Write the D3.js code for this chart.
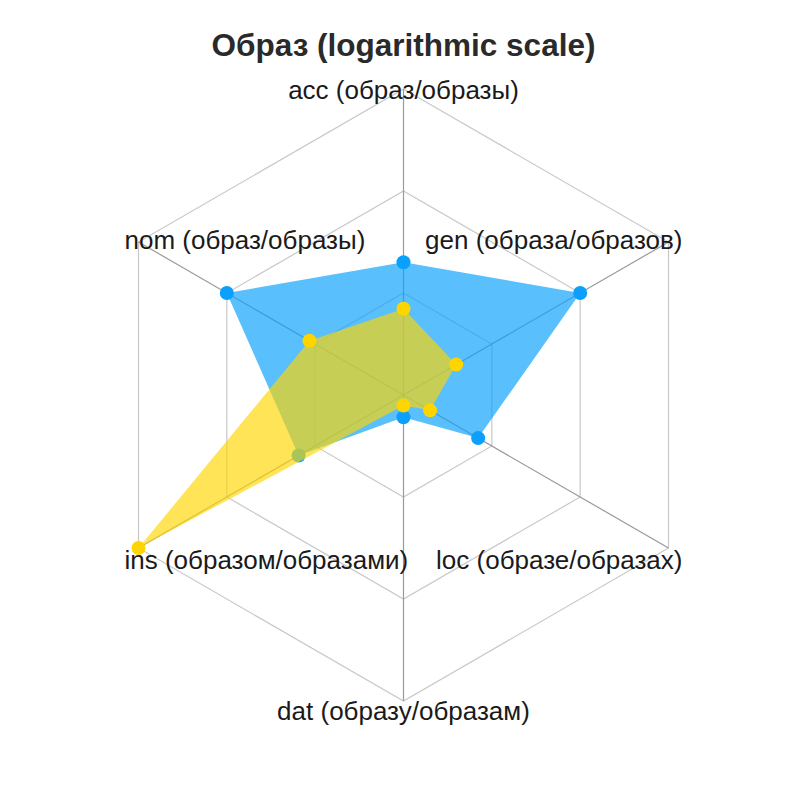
<!DOCTYPE html>
<html>
<head>
<meta charset="utf-8">
<script src="https://cdn.jsdelivr.net/npm/d3@7"></script>
<style>
  body { margin: 0; background: #fff; }
  #chart { width: 790px; height: 788px; }
  text { font-family: "Liberation Sans", Arial, Helvetica, sans-serif; }
</style>
</head>
<body>
<div id="chart"></div>
<script>
// axes, clockwise from the top
var cases = ["acc", "gen", "loc", "dat", "ins", "nom"];
var caseLabels = [
  "acc (образ/образы)",
  "gen (образа/образов)",
  "loc (образе/образах)",
  "dat (образу/образам)",
  "ins (образом/образами)",
  "nom (образ/образы)"
];
// values (log scale)
var blueValues = [20, 100, 7, 1.65, 15.4, 100];
var yellowValues = [7, 3.95, 2, 1.27, 1000, 11.6];
var ringTicks = [10, 100, 1000];

var width = 790, height = 788;
var cx = 403.5, cy = 395, R = 306;

var svg = d3.select("#chart")
  .append("svg")
  .attr("width", width)
  .attr("height", height);

var r = d3.scaleLog().domain([1, 1000]).range([0, R]);

function angle(i) { return -Math.PI / 2 + i * 2 * Math.PI / cases.length; }
function px(i, rad) { return cx + rad * Math.cos(angle(i)); }
function py(i, rad) { return cy + rad * Math.sin(angle(i)); }

// title
svg.append("text")
  .attr("x", cx)
  .attr("y", 45)
  .attr("text-anchor", "middle")
  .attr("dominant-baseline", "central")
  .style("font-size", "31.5px")
  .style("font-weight", "bold")
  .style("fill", "#2a2a2a")
  .text("Образ (logarithmic scale)");

// ---- grid ----
var grid = svg.append("g");
ringTicks.forEach(function(t) {
  var pts = cases.map(function(c, i) { return [px(i, r(t)), py(i, r(t))]; });
  grid.append("polygon")
    .attr("points", pts.map(function(p) { return p.join(","); }).join(" "))
    .attr("fill", "none")
    .attr("stroke", "#c8c8c8")
    .attr("stroke-width", 1.2);
});
cases.forEach(function(c, i) {
  grid.append("line")
    .attr("x1", cx).attr("y1", cy)
    .attr("x2", px(i, R)).attr("y2", py(i, R))
    .attr("stroke", "#9a9a9a")
    .attr("stroke-width", 1.2);
});

// ---- series ----
var line = d3.lineRadial()
  .angle(function(d, i) { return angle(i) + Math.PI / 2; })
  .radius(function(d) { return r(d); })
  .curve(d3.curveLinearClosed);

function drawSeries(values, fill, point) {
  var g = svg.append("g").attr("transform", "translate(" + cx + "," + cy + ")");
  g.append("path")
    .attr("d", line(values))
    .attr("fill", fill)
    .attr("stroke", "none");
  g.selectAll("circle")
    .data(values)
    .enter()
    .append("circle")
    .attr("cx", function(d, i) { return r(d) * Math.cos(angle(i)); })
    .attr("cy", function(d, i) { return r(d) * Math.sin(angle(i)); })
    .attr("r", 7)
    .attr("fill", point);
}
drawSeries(blueValues, "rgba(10,160,252,0.68)", "#0aa0fc");
drawSeries(yellowValues, "rgba(255,214,0,0.66)", "#ffd500");

// ---- axis labels ----
var labelPos = [
  { dx: 0, dy: 1, anchor: "middle" },
  { dx: 14, dy: -2, anchor: "end" },
  { dx: 14, dy: 12, anchor: "end" },
  { dx: 0, dy: 10, anchor: "middle" },
  { dx: -14, dy: 12, anchor: "start" },
  { dx: -14, dy: -2, anchor: "start" }
];
svg.append("g")
  .selectAll("text")
  .data(caseLabels)
  .enter()
  .append("text")
  .attr("x", function(d, i) { return px(i, R) + labelPos[i].dx; })
  .attr("y", function(d, i) { return py(i, R) + labelPos[i].dy; })
  .attr("text-anchor", function(d, i) { return labelPos[i].anchor; })
  .attr("dominant-baseline", "central")
  .style("font-size", "26px")
  .style("fill", "#1a1a1a")
  .text(function(d) { return d; });
</script>
</body>
</html>
